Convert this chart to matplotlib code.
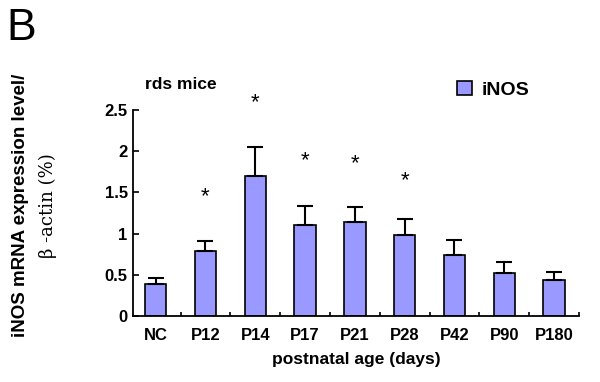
import matplotlib
matplotlib.use("Agg")
import matplotlib.pyplot as plt
import numpy as np

plt.rcParams['font.family'] = ['Liberation Sans', 'DejaVu Sans']

groups = ["NC", "P12", "P14", "P17", "P21", "P28", "P42", "P90", "P180"]
inos = [0.39, 0.785, 1.70, 1.10, 1.145, 0.985, 0.735, 0.525, 0.43]
inos_err = [0.07, 0.13, 0.355, 0.24, 0.175, 0.195, 0.185, 0.135, 0.10]
star_y = [None, 1.45, 2.59, 1.89, 1.85, 1.64, None, None, None]

bar_color = "#9999ff"

fig = plt.figure(figsize=(6, 3.82), dpi=100)
ax = fig.add_axes([0.222, 0.173, 0.743, 0.539])

x = np.arange(len(groups))
ax.bar(x, inos, width=0.43, color=bar_color, edgecolor="black", linewidth=1.2,
       yerr=[np.zeros(len(inos)), inos_err],
       error_kw=dict(ecolor="black", elinewidth=1.5, capsize=6, capthick=1.5),
       label="iNOS", zorder=2)

# significance marks
for xi, sy in zip(x, star_y):
    if sy is not None:
        ax.text(xi, sy, "*", ha="center", va="center", fontsize=16, clip_on=False)

ax.set_xlim(-0.45, len(groups) - 0.55)
ax.set_ylim(0, 2.5)
ax.set_yticks([0, 0.5, 1, 1.5, 2, 2.5])
ax.set_yticklabels(["0", "0.5", "1", "1.5", "2", "2.5"], fontweight="bold", fontsize=12)

ax.set_xticks(x)
ax.set_xticklabels(groups, fontweight="bold", fontsize=12)
ax.tick_params(axis="x", length=0, pad=9)
ax.set_xticks(np.arange(len(groups)) + 0.5, minor=True)
ax.tick_params(axis="x", which="minor", direction="in", length=3, width=1.2)
ax.tick_params(axis="y", direction="in", length=4, width=1.2, pad=4)

for s in ["top", "right"]:
    ax.spines[s].set_visible(False)
for s in ["left", "bottom"]:
    ax.spines[s].set_linewidth(1.3)

ax.set_xlabel("postnatal age (days)", fontweight="bold", fontsize=12.5, labelpad=6)

fig.text(0.02, 0.463, "iNOS mRNA expression level/", rotation=90, ha="left", va="center",
         fontweight="bold", fontsize=13.5)
fig.text(0.065, 0.463, "\u03b2 -actin (%)", rotation=90, ha="left", va="center",
         fontsize=13, family=["DejaVu Serif"])

fig.text(0.242, 0.78, "rds mice", fontweight="bold", fontsize=12.5, ha="left", va="center")
fig.text(0.01, 0.925, "B", fontsize=32, ha="left", va="center")

ax.legend(loc="center left", bbox_to_anchor=(0.762, 0.764), bbox_transform=fig.transFigure,
          frameon=False, borderpad=0, borderaxespad=0,
          prop=dict(weight="bold", size=14), handlelength=0.75, handleheight=0.75,
          handletextpad=0.5)

fig.savefig("out.png", dpi=100)
